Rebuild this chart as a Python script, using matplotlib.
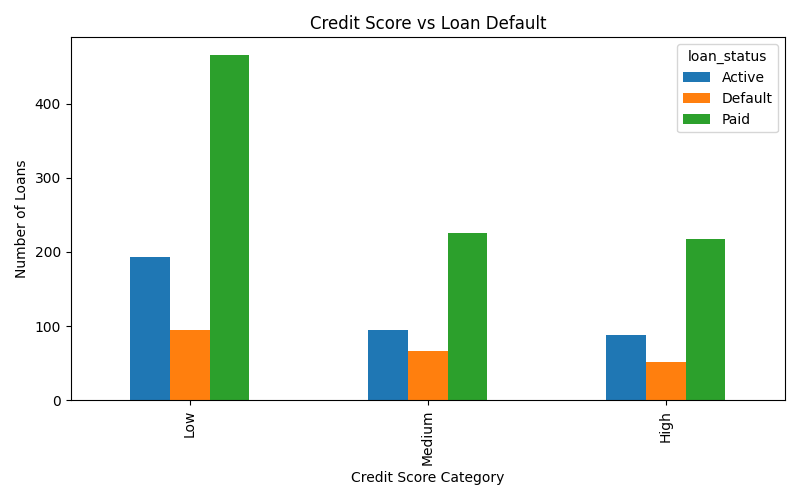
import matplotlib
matplotlib.use("Agg")
import matplotlib.pyplot as plt
import pandas as pd

categories = ["Low", "Medium", "High"]
active = [193, 95, 88]
default = [95, 66, 51]
paid = [466, 226, 218]

df = pd.DataFrame({"Active": active, "Default": default, "Paid": paid}, index=categories)
df.columns.name = "loan_status"

fig, ax = plt.subplots(figsize=(8, 5), dpi=100)
df.plot(kind="bar", ax=ax)
ax.set_title("Credit Score vs Loan Default")
ax.set_xlabel("Credit Score Category")
ax.set_ylabel("Number of Loans")
ax.legend(title="loan_status")
plt.tight_layout()
plt.savefig("out.png")
